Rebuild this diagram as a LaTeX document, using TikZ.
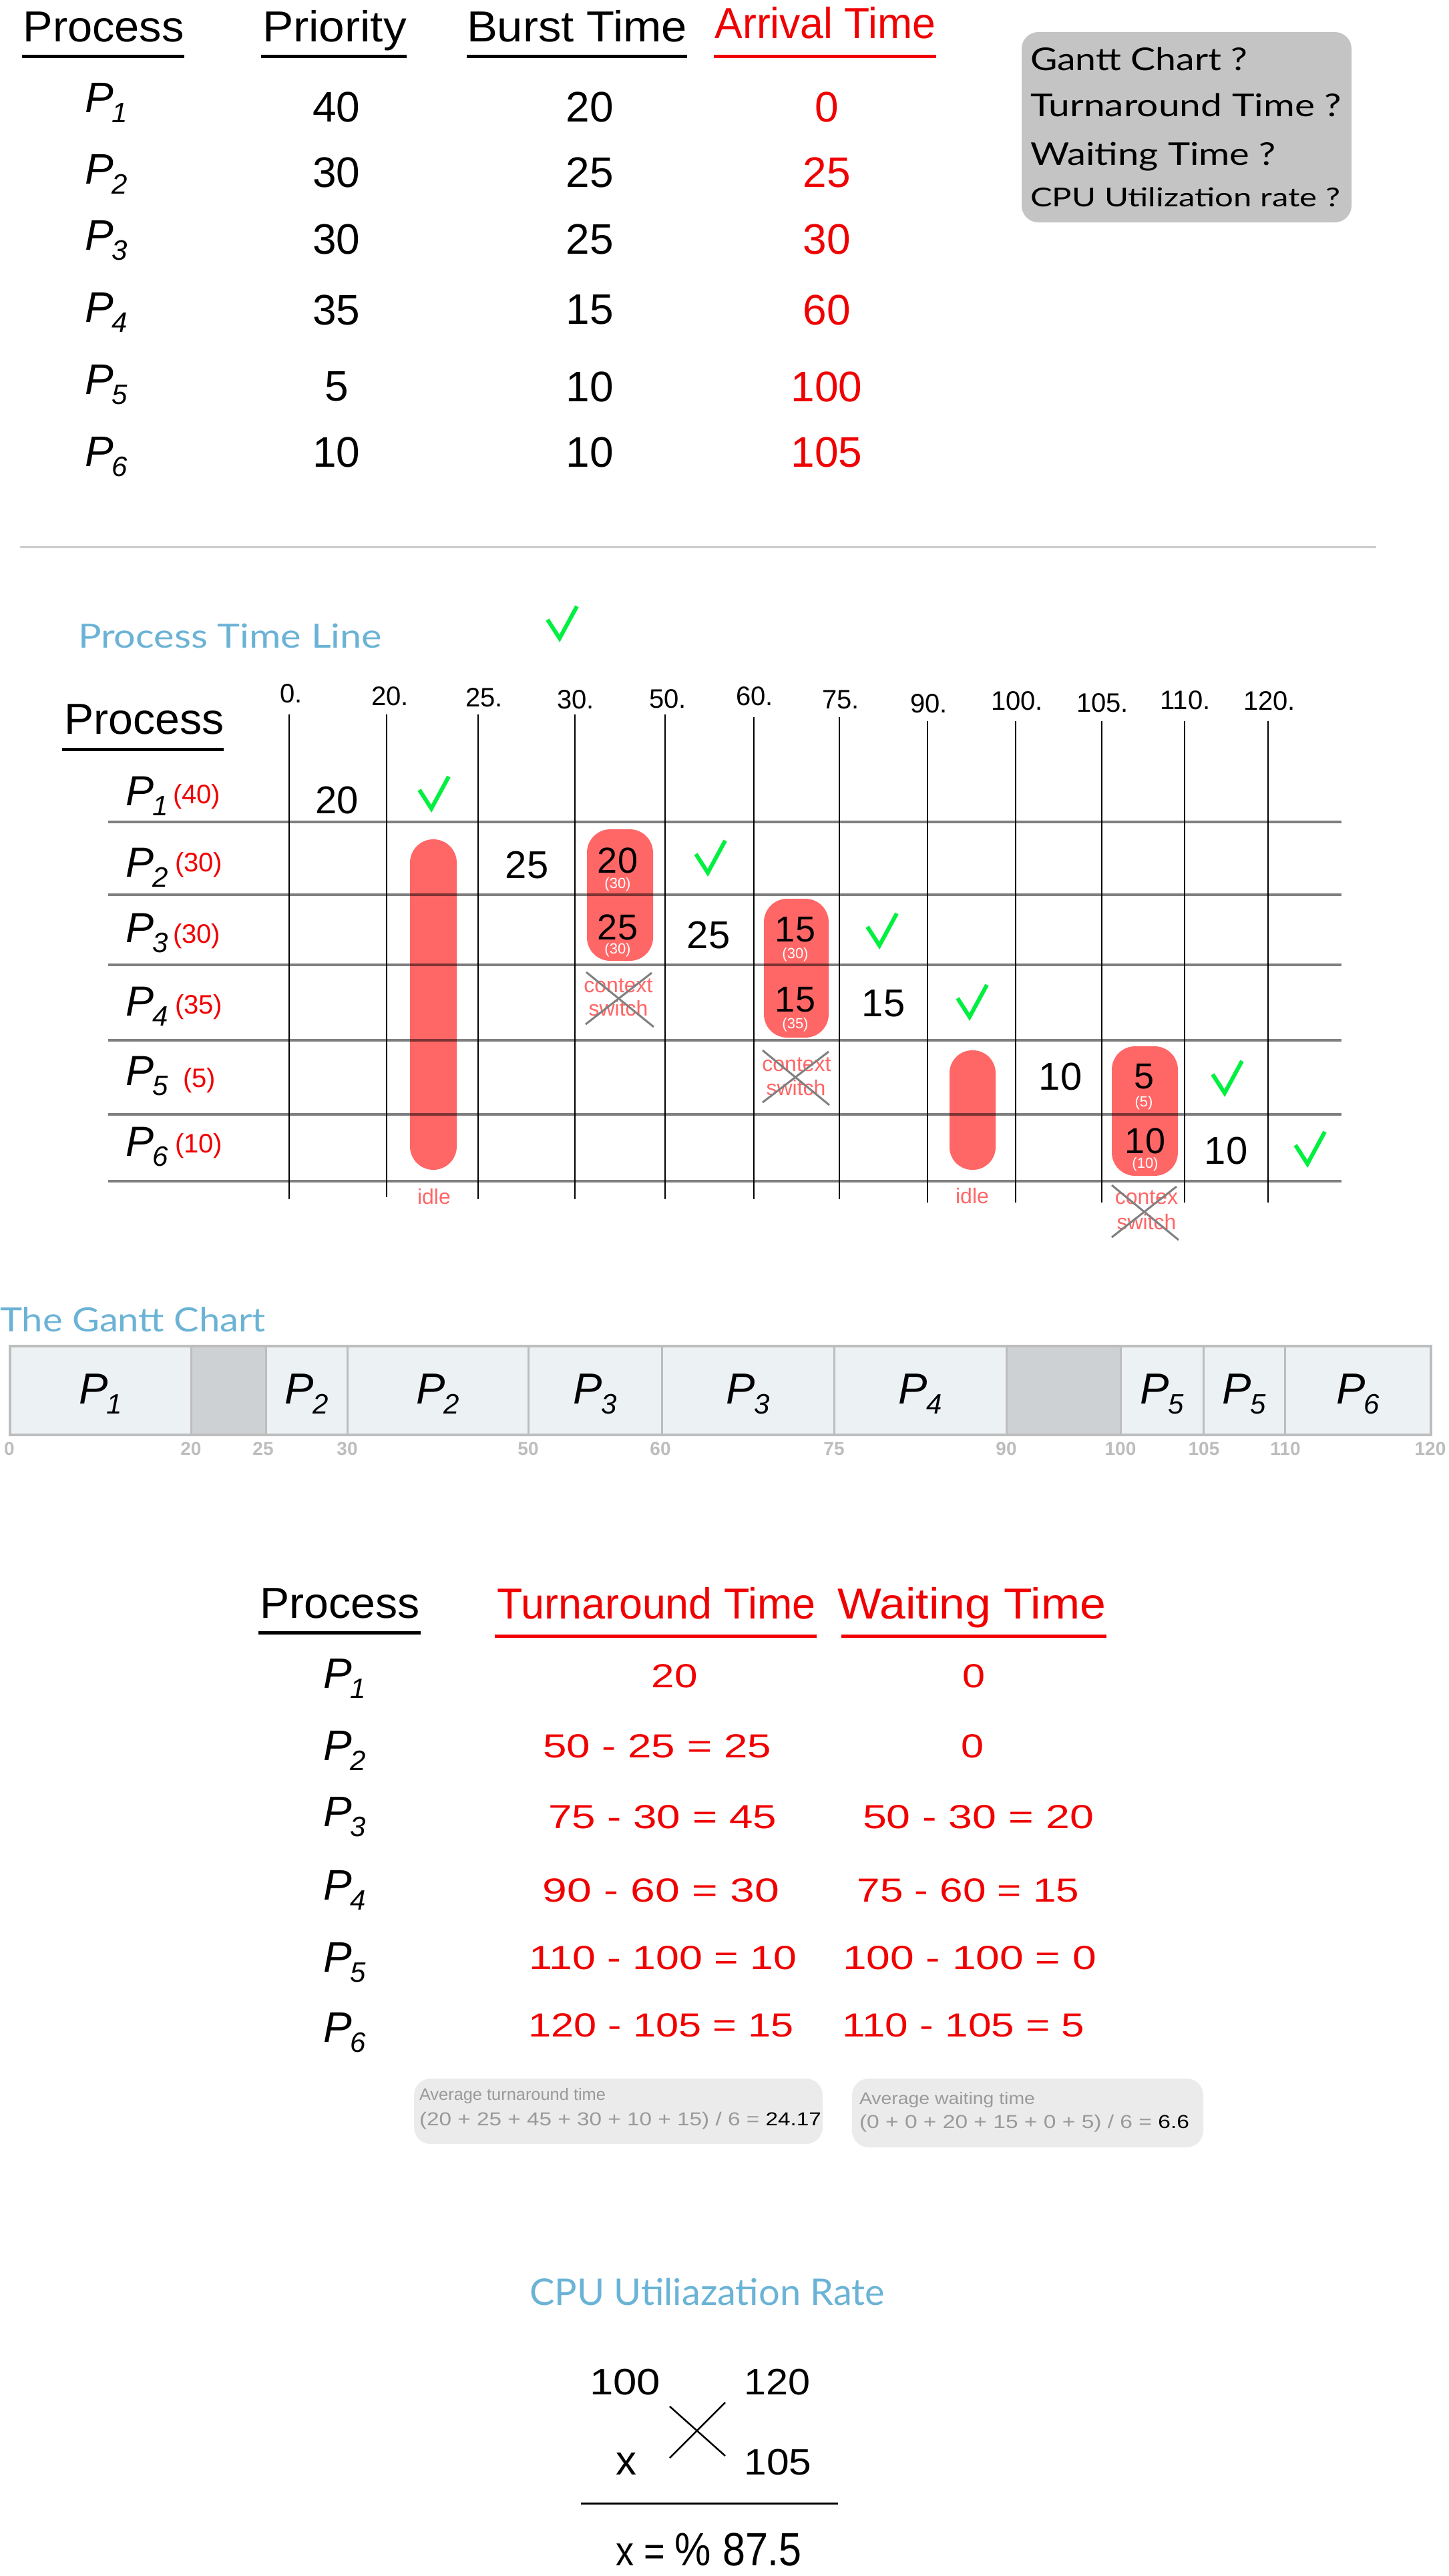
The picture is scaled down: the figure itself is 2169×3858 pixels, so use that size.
\documentclass[tikz,border=0pt]{standalone}
\usepackage{fontspec}
\setmainfont{Liberation Sans}
\newfontfamily\latofont{Lato}
\usepackage{graphicx}
\newcommand\fs[1]{\fontsize{#1}{#1}\selectfont}
\newcommand\fw[2]{\resizebox{#1pt}{\height}{#2}}
\newcommand\Pl[1]{{\itshape P\kern-0.03em\raisebox{-15pt}{\fs{42}#1}}}
\newcommand\chk[2]{\draw[chkst] (#1-18,#2-28) -- (#1,#2) -- (#1+26,#2-48);}
\definecolor{redT}{RGB}{240,0,0}
\definecolor{pinkR}{RGB}{255,102,102}
\definecolor{greenC}{RGB}{0,240,64}
\definecolor{blueT}{RGB}{107,179,214}
\definecolor{boxG}{RGB}{196,196,196}
\definecolor{ganL}{RGB}{236,241,244}
\definecolor{ganI}{RGB}{205,209,212}
\definecolor{ganB}{RGB}{189,189,189}
\definecolor{avgB}{RGB}{235,235,235}
\definecolor{avgT}{RGB}{154,154,154}
\definecolor{sepG}{RGB}{204,204,204}
\begin{document}
\begin{tikzpicture}[x=1pt,y=-1pt,
  every node/.style={inner sep=0pt,outer sep=0pt},
  hd/.style={anchor=base,font=\fs{65}},
  num/.style={anchor=center,font=\fs{64}},
  cell/.style={anchor=center,font=\fs{58}},
  inb/.style={anchor=center,font=\fs{54}},
  wl/.style={anchor=center,font=\fs{22},text=white},
  ctx/.style={anchor=center,font=\fs{32},text=pinkR},
  xst/.style={draw=black!50,line width=3},
  chkst/.style={draw=greenC,line width=6},
  ttl/.style={anchor=base west,text=blueT,font=\latofont\fs{50}},
  rv/.style={anchor=center,font=\fs{50},text=redT},
  tick/.style={anchor=center,font=\bfseries\fs{28},text=ganB},
  pill/.style={fill=pinkR,rounded corners=35}]
\useasboundingbox (0,0) rectangle (2169,3858);
\fill[white] (0,0) rectangle (2169,3858);

% ---------- top table
\node[hd] (th1) at (155,62) {\fw{241}{Process}};
\node[hd] (th2) at (501,62) {\fw{216}{Priority}};
\node[hd] (th3) at (864,62) {\fw{330}{Burst Time}};
\node[hd,text=redT] (th4) at (1236,57) {\fw{331}{Arrival Time}};
\fill (33,81.5) rectangle (276,86.5);
\fill (391,81.5) rectangle (609,86.5);
\fill (699,81.5) rectangle (1029,86.5);
\fill[redT] (1069,81.5) rectangle (1402,86.5);
\foreach \y/\b/\k/\pr/\bu/\ar in {160/168/1/40/20/0, 258/275/2/30/25/25, 358/374/3/30/25/30, 464/482/4/35/15/60, 579/590/5/5/10/100, 677/698/6/10/10/105}{
  \node[anchor=base west,font=\fs{64}] (tp\k) at (127,\b) {\Pl{\k}};
  \node[num] (tpr\k) at (504,\y) {\pr};
  \node[num] (tbu\k) at (883,\y) {\bu};
  \node[num,text=redT] (tar\k) at (1238,\y) {\ar};
}

% ---------- question box
\fill[boxG,rounded corners=25] (1530,48) rectangle (2024,333);
\node[anchor=base west,font=\latofont\fs{47}] (q1) at (1543,105) {\fw{325}{Gantt Chart ?}};
\node[anchor=base west,font=\latofont\fs{47}] (q2) at (1543,174) {\fw{466}{Turnaround Time ?}};
\node[anchor=base west,font=\latofont\fs{47}] (q3) at (1543,247) {\fw{368}{Waiting Time ?}};
\node[anchor=base west,font=\latofont\fs{39}] (q4) at (1543,309) {\fw{464}{CPU Utilization rate ?}};

\draw[sepG,line width=3] (30,819) -- (2061,819);

% ---------- process time line
\node[ttl] (tl) at (117,970) {\fw{455}{Process Time Line}};
\chk{838}{956}
\node[hd] (tlh) at (216,1099) {\fw{239}{Process}};
\fill (93,1119.5) rectangle (335,1124.5);
\foreach \x/\t/\b [count=\i] in {436/0./1052, 584/20./1056, 725/25./1058, 862/30./1061, 1000/50./1060, 1130/60./1056, 1259/75./1061, 1391/90./1067, 1523/100./1063, 1651/105./1066, 1775/110./1062, 1901/120./1063}{
  \node[anchor=base,font=\fs{40}] (tt\i) at (\x,\b) {\t};
}
% red pills
\fill[pill] (614,1257) rectangle (684,1752);
\fill[pill] (879,1242) rectangle (978,1439);
\fill[pill] (1144,1346) rectangle (1241,1554);
\fill[pill,rounded corners=34] (1422,1573) rectangle (1491,1752);
\fill[pill] (1665,1567) rectangle (1764,1761);
% grid
\foreach \x/\t/\b in {433/1070/1796, 579/1070/1793, 716/1070/1796, 861/1070/1796, 996/1070/1796, 1129/1074/1796, 1257/1074/1796, 1389/1080/1801, 1521/1080/1801, 1650/1080/1801, 1774/1080/1801, 1899/1080/1801}{
  \draw[line width=2.5] (\x,\t) -- (\x,\b);
}
\foreach \y in {1231,1340,1445,1558,1669,1769}{
  \draw[black,opacity=.5,line width=4] (162,\y) -- (2009,\y);
}
% row labels
\foreach \k/\b/\c/\lx/\lab in {1/1206/1193/259/40, 2/1313/1295/262/30, 3/1411/1402/259/30, 4/1521/1508/262/35, 5/1625/1618/274/5, 6/1731/1716/262/10}{
  \node[anchor=base west,font=\fs{63}] (rp\k) at (188,\b) {\Pl{\k}};
  \node[anchor=west,font=\fs{40},text=redT] (rl\k) at (\lx,\c) {(\lab)};
}
% P1
\node[cell] (c11) at (505,1199) {20};
\chk{646}{1211}
% P2
\node[cell] (c21) at (789,1296) {25};
\node[inb] (c22) at (925,1289) {20};
\node[wl] (c22w) at (925,1325) {(30)};
\chk{1060}{1307}
% P3
\node[inb] (c31) at (925,1389) {25};
\node[wl] (c31w) at (925,1423) {(30)};
\node[cell] (c32) at (1061,1401) {25};
\node[inb] (c33) at (1191,1392) {15};
\node[wl] (c33w) at (1191,1430) {(30)};
\chk{1317}{1416}
% P4
\node[ctx] (cs1a) at (926,1476) {context};
\node[ctx] (cs1b) at (926,1510) {switch};
\draw[xst] (878,1456) -- (979,1538);
\draw[xst] (877,1534) -- (976,1457);
\node[inb] (c41) at (1191,1497) {15};
\node[wl] (c41w) at (1191,1535) {(35)};
\node[cell] (c42) at (1323,1503) {15};
\chk{1452}{1523}
% P5
\node[ctx] (cs2a) at (1193,1594) {context};
\node[ctx] (cs2b) at (1192,1629) {switch};
\draw[xst] (1142,1573) -- (1242,1655);
\draw[xst] (1142,1651) -- (1241,1575);
\node[cell] (c51) at (1588,1613) {10};
\node[inb] (c52) at (1713,1612) {5};
\node[wl] (c52w) at (1713,1652) {(5)};
\chk{1834}{1637}
% P6
\node[inb] (c61) at (1715,1709) {10};
\node[wl] (c61w) at (1715,1744) {(10)};
\node[cell] (c62) at (1836,1724) {10};
\chk{1958}{1743}
% below
\node[ctx] (id1) at (650,1792) {idle};
\node[ctx] (id2) at (1456,1791) {idle};
\node[ctx] (cs3a) at (1717,1793) {contex};
\node[ctx] (cs3b) at (1717,1830) {switch};
\draw[xst] (1665,1775) -- (1765,1857);
\draw[xst] (1665,1853) -- (1762,1777);

% ---------- Gantt chart
\node[ttl] (gt) at (0,1994) {\fw{398}{The Gantt Chart}};
\fill[ganL] (15,2016) rectangle (2143,2149);
\fill[ganI] (286,2016) rectangle (398,2149);
\fill[ganI] (1507,2016) rectangle (1678,2149);
\foreach \x in {286,398,520,791,991,1249,1507,1678,1802,1924}{
  \draw[ganB,line width=3] (\x,2016) -- (\x,2149);
}
\draw[ganB,line width=4] (15,2016) rectangle (2143,2149);
\foreach \x/\k [count=\i] in {150.5/1, 459/2, 655.5/2, 891/3, 1120/3, 1378/4, 1740/5, 1863/5, 2033.5/6}{
  \node[anchor=base,font=\fs{65}] (g\i) at (\x,2102) {\Pl{\k}};
}
\foreach \x/\t [count=\i] in {14/0, 286/20, 394/25, 520/30, 791/50, 989/60, 1249/75, 1507/90, 1678/100, 1803/105, 1925/110, 2142/120}{
  \node[tick] (gk\i) at (\x,2170) {\t};
}

% ---------- results table
\node[hd] (rh1) at (509,2423) {\fw{239}{Process}};
\node[hd,text=redT] (rh2) at (983,2424) {\fw{477}{Turnaround Time}};
\node[hd,text=redT] (rh3) at (1455,2424) {\fw{402}{Waiting Time}};
\fill (387,2442.5) rectangle (630,2447.5);
\fill[redT] (741,2447.5) rectangle (1223,2452.5);
\fill[redT] (1260,2447.5) rectangle (1657,2452.5);
\foreach \k/\b in {1/2528, 2/2636, 3/2735, 4/2845, 5/2953, 6/3058}{
  \node[anchor=base west,font=\fs{64}] (rq\k) at (484,\b) {\Pl{\k}};
}
\node[rv] (t1) at (1010,2510) {\fw{69}{20}};
\node[rv] (t2) at (984,2615) {\fw{342}{50 - 25 = 25}};
\node[rv] (t3) at (992,2721) {\fw{342}{75 - 30 = 45}};
\node[rv] (t4) at (990,2831) {\fw{355}{90 - 60 = 30}};
\node[rv] (t5) at (993,2932) {\fw{401}{110 - 100 = 10}};
\node[rv] (t6) at (990,3033) {\fw{397}{120 - 105 = 15}};
\node[rv] (w1) at (1458,2510) {\fw{34}{0}};
\node[rv] (w2) at (1456,2615) {\fw{34}{0}};
\node[rv] (w3) at (1465,2721) {\fw{346}{50 - 30 = 20}};
\node[rv] (w4) at (1450,2831) {\fw{333}{75 - 60 = 15}};
\node[rv] (w5) at (1452,2932) {\fw{380}{100 - 100 = 0}};
\node[rv] (w6) at (1443,3033) {\fw{363}{110 - 105 = 5}};

% averages
\fill[avgB,rounded corners=25] (620,3113) rectangle (1232,3211);
\fill[avgB,rounded corners=25] (1276,3113) rectangle (1802,3216);
\node[anchor=base west,font=\fs{25},text=avgT] (a1) at (628,3145) {\fw{279}{Average turnaround time}};
\node[anchor=base west,font=\fs{28}] (a2) at (628,3183) {\fw{602}{\color{avgT}(20 + 25 + 45 + 30 + 10 + 15) / 6 = \color{black}24.17}};
\node[anchor=base west,font=\fs{25},text=avgT] (b1) at (1287,3151) {\fw{263}{Average waiting time}};
\node[anchor=base west,font=\fs{28}] (b2) at (1287,3187) {\fw{494}{\color{avgT}(0 + 0 + 20 + 15 + 0 + 5) / 6 = \color{black}6.6}};

% ---------- CPU utilization
\node[anchor=base west,text=blueT,font=\latofont\fs{55}] (ct) at (793,3452) {\fw{532}{CPU Utiliazation Rate}};
\node[anchor=center,font=\fs{55}] (u1) at (936,3568) {\fw{106}{100}};
\node[anchor=center,font=\fs{55}] (u2) at (1164,3568) {\fw{99}{120}};
\node[anchor=base,font=\fs{62}] (u3) at (938,3706) {x};
\node[anchor=center,font=\fs{55}] (u4) at (1165,3688) {\fw{101}{105}};
\draw[line width=2.5] (1003,3604) -- (1086,3678);
\draw[line width=2.5] (1003,3681) -- (1086,3598);
\draw[line width=3] (870,3749) -- (1255,3749);
\node[anchor=base west,font=\fs{62}] (u5) at (922,3842) {\fw{279}{x = \fs{70}\% 87.5}};
\end{tikzpicture}
\end{document}
